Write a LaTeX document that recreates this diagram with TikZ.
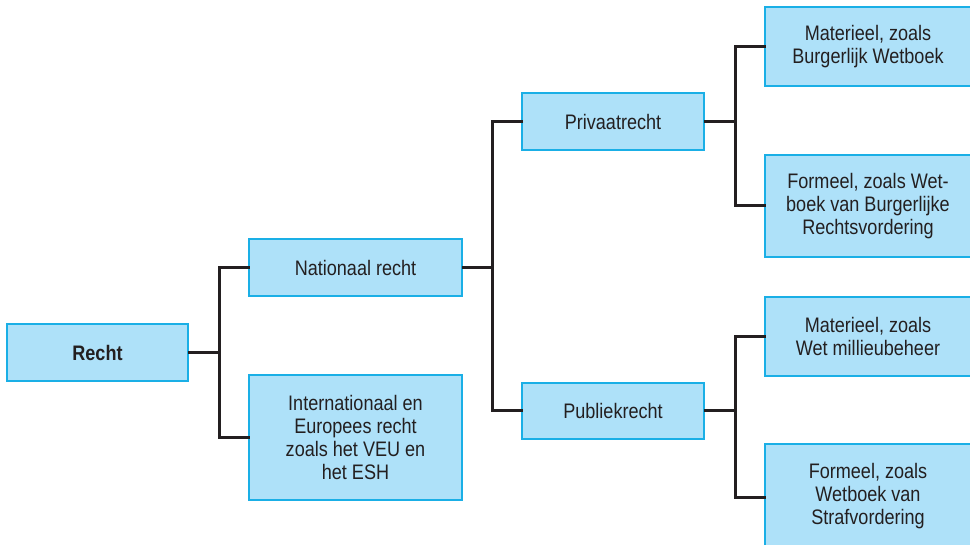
\documentclass[tikz,border=0pt]{standalone}
\usepackage{fontspec}
\setmainfont[FakeStretch=0.86]{Liberation Sans}
\definecolor{boxfill}{HTML}{AEE1F9}
\definecolor{boxline}{HTML}{1AAFE6}
\definecolor{conn}{HTML}{231F20}
\begin{document}
\begin{tikzpicture}[x=1pt,y=-1pt,
  box/.style={draw=boxline, fill=boxfill, line width=2pt, inner sep=0pt,
    align=center, text=conn, font=\fontsize{21}{23}\selectfont},
  link/.style={draw=conn, line width=3pt, line cap=rect}]
\useasboundingbox (0,0) rectangle (970,545);
\begin{scope}
\clip (0,0) rectangle (970,545);
\node[box, minimum width=181pt, minimum height=57pt, font=\fontsize{21}{23}\selectfont\bfseries] (recht) at (97.5,352.5) {Recht};
\node[box, minimum width=213pt, minimum height=57pt] (nat) at (355.5,267.5) {Nationaal recht};
\node[box, minimum width=213pt, minimum height=125pt] (int) at (355.5,437.5) {Internationaal en\\Europees recht\\zoals het VEU en\\het ESH};
\node[box, minimum width=182pt, minimum height=57pt] (priv) at (613,121.5) {Privaatrecht};
\node[box, minimum width=182pt, minimum height=56pt] (pub) at (613,411) {Publiekrecht};
\node[box, minimum width=212pt, minimum height=79pt] (mat1) at (871,46.5) {\hspace*{-6pt}Materieel, zoals\\\hspace*{-6pt}Burgerlijk Wetboek};
\node[box, minimum width=212pt, minimum height=102pt] (form1) at (871,206) {\hspace*{-6pt}Formeel, zoals Wet-\\\hspace*{-6pt}boek van Burgerlijke\\\hspace*{-6pt}Rechtsvordering};
\node[box, minimum width=212pt, minimum height=79pt] (mat2) at (871,336.5) {\hspace*{-6pt}Materieel, zoals\\\hspace*{-6pt}Wet millieubeheer};
\node[box, minimum width=212pt, minimum height=104pt] (form2) at (871,496) {\hspace*{-6pt}Formeel, zoals\\\hspace*{-6pt}Wetboek van\\\hspace*{-6pt}Strafvordering};
\end{scope}
\coordinate (j1) at (219,352.5);
\coordinate (j2) at (492,267.5);
\coordinate (j3) at (735,121.5);
\coordinate (j4) at (735,411);
\draw[link] (recht.east) -- (j1);
\draw[link] (nat.west) -| (j1) |- (int.west);
\draw[link] (nat.east) -- (j2);
\draw[link] (priv.west) -| (j2) |- (pub.west);
\draw[link] (priv.east) -- (j3);
\draw[link] (mat1.west) -| (j3) |- (form1.west);
\draw[link] (pub.east) -- (j4);
\draw[link] (mat2.west) -| (j4) |- ([yshift=-1pt]form2.west);
\end{tikzpicture}
\end{document}
